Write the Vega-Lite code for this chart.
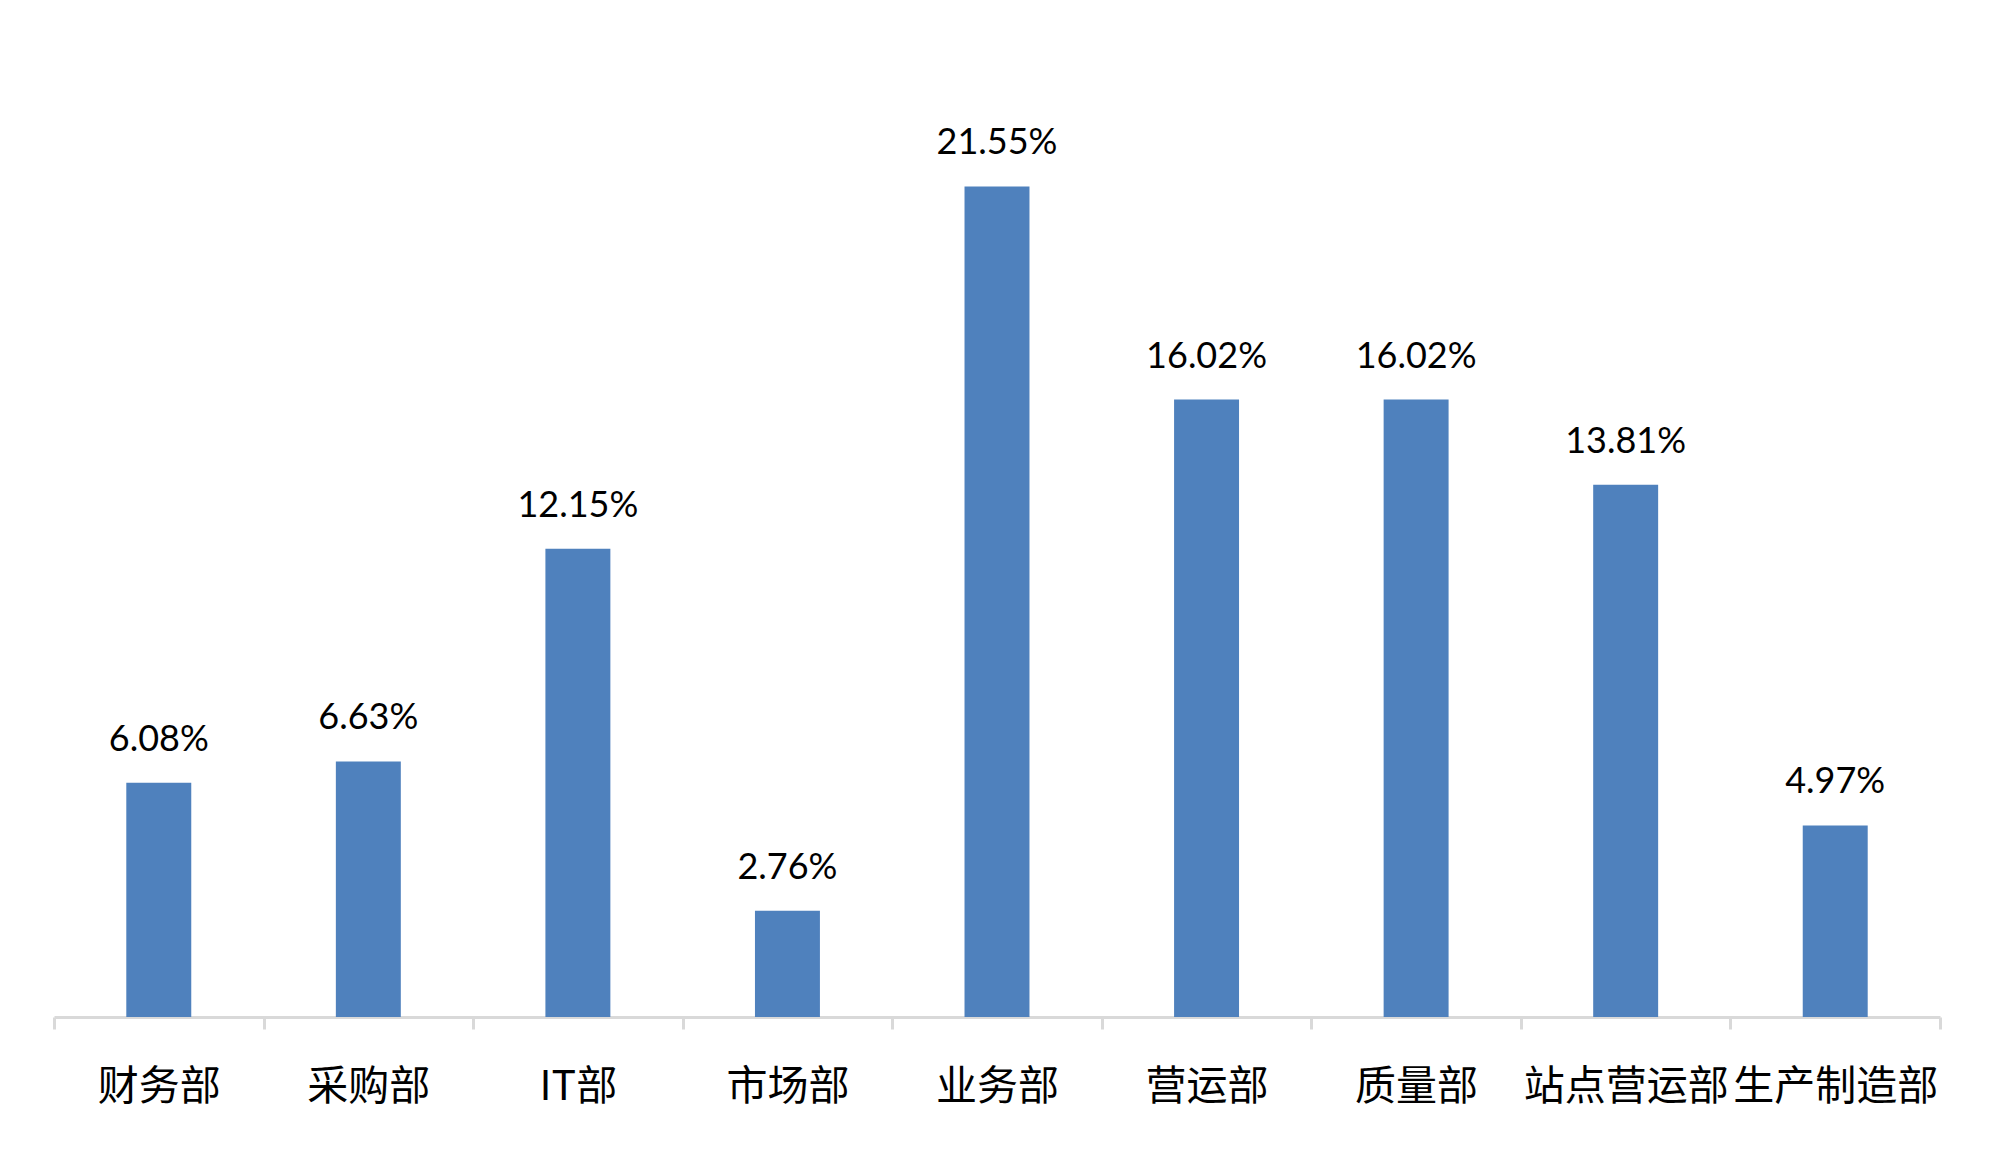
{
  "$schema": "https://vega.github.io/schema/vega-lite/v6.json",
  "width": 1886,
  "height": 1002,
  "autosize": {"type": "none"},
  "padding": {"left": 54, "top": 15, "right": 60, "bottom": 154},
  "background": "white",
  "config": {"view": {"stroke": null}},
  "data": {
    "values": [
      {"dept": "财务部", "share": 0.0608},
      {"dept": "采购部", "share": 0.0663},
      {"dept": "IT部", "share": 0.1215},
      {"dept": "市场部", "share": 0.0276},
      {"dept": "业务部", "share": 0.2155},
      {"dept": "营运部", "share": 0.1602},
      {"dept": "质量部", "share": 0.1602},
      {"dept": "站点营运部", "share": 0.1381},
      {"dept": "生产制造部", "share": 0.0497}
    ]
  },
  "encoding": {
    "x": {
      "field": "dept",
      "type": "nominal",
      "sort": null,
      "scale": {"paddingInner": 0, "paddingOuter": 0},
      "axis": {
        "title": null,
        "labelAngle": 0,
        "labelFont": "Noto Sans CJK SC",
        "labelFontSize": 41,
        "labelColor": "#000000",
        "labelPadding": 38,
        "labelLimit": 0,
        "domainColor": "#d9d9d9",
        "domainWidth": 3,
        "tickColor": "#d9d9d9",
        "tickWidth": 3,
        "tickSize": 12,
        "tickBand": "extent",
        "labelOverlap": false,
        "labelBound": false
      }
    },
    "y": {
      "field": "share",
      "type": "quantitative",
      "scale": {"domain": [0, 0.26]},
      "axis": null
    }
  },
  "layer": [
    {"mark": {"type": "bar", "color": "#4f81bd", "width": {"band": 0.31}}},
    {
      "mark": {
        "type": "text",
        "baseline": "alphabetic",
        "dy": -32,
        "font": "Lato",
        "fontSize": 36,
        "color": "#000000"
      },
      "encoding": {"text": {"field": "share", "type": "quantitative", "format": ".2%"}}
    }
  ]
}
